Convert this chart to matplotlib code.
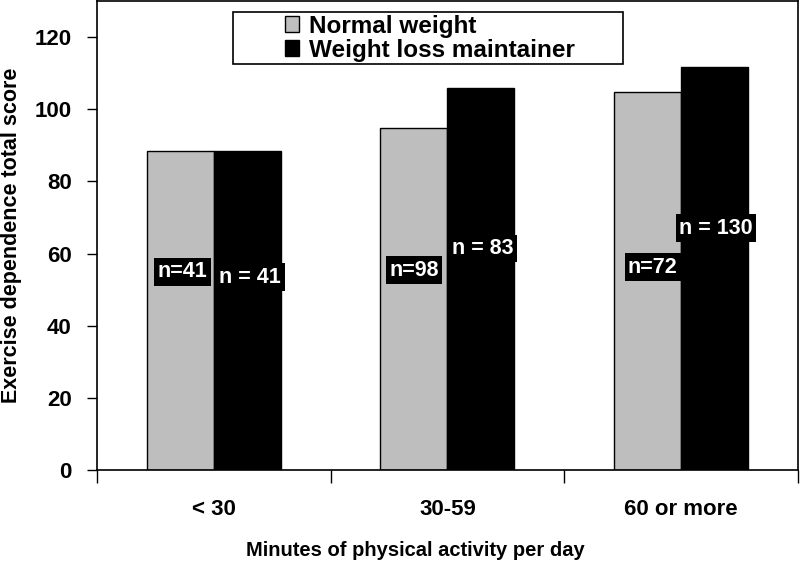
import matplotlib.pyplot as plt
from matplotlib.patches import Rectangle
import numpy as np

categories = ['< 30', '30-59', '60 or more']
normal_weight = [88.5, 94.8, 104.8]
weight_loss = [88.5, 106.0, 111.8]
normal_n = ['n=41', 'n=98', 'n=72']
loss_n = ['n = 41', 'n = 83', 'n = 130']

plt.rcParams['font.family'] = 'Liberation Sans'
plt.rcParams['font.weight'] = 'bold'

fig = plt.figure(figsize=(8, 5.64), dpi=100)
ax = fig.add_axes([0.121, 0.1667, 0.8765, 0.8313])

x = np.arange(len(categories))
w = 0.287
ax.bar(x - w/2, normal_weight, w, color='#bebebe', edgecolor='black', linewidth=1, label='Normal weight')
ax.bar(x + w/2, weight_loss, w, color='black', edgecolor='black', linewidth=1, label='Weight loss maintainer')

# sample size labels (white on black boxes)
box = dict(facecolor='black', edgecolor='none', pad=2.5)
nx_normal = [-0.132, 0.857, 1.879]
ny_normal = [55.0, 55.4, 56.2]
nx_loss = [0.157, 1.152, 2.149]
ny_loss = [53.4, 61.4, 67.0]
for i in range(3):
    ax.text(nx_normal[i], ny_normal[i], normal_n[i], color='white', fontsize=15.5,
            fontweight='bold', ha='center', va='center', bbox=box)
    ax.text(nx_loss[i], ny_loss[i], loss_n[i], color='white', fontsize=15.5,
            fontweight='bold', ha='center', va='center', bbox=box)

ax.set_xlim(-0.5, 2.5)
ax.set_ylim(0, 130)
ax.set_yticks([0, 20, 40, 60, 80, 100, 120])
ax.tick_params(axis='y', direction='out', length=7, width=1, labelsize=16, pad=11)

ax.set_xticks([-0.5, 0.5, 1.5, 2.5])
ax.set_xticklabels([])
ax.set_xticks(x, minor=True)
ax.set_xticklabels(categories, minor=True)
ax.tick_params(axis='x', which='major', direction='out', length=9, width=1)
ax.tick_params(axis='x', which='minor', length=0, labelsize=16, pad=21)

for s in ax.spines.values():
    s.set_linewidth(1.2)

ax.set_xlabel('Minutes of physical activity per day', fontsize=14.5, fontweight='bold',
              va='center', ha='center')
ax.set_ylabel('Exercise dependence total score', fontsize=15.5, fontweight='bold',
              va='center', ha='center')
ax.xaxis.set_label_coords(0.454, -0.1716)
ax.yaxis.set_label_coords(-0.121, 0.5)

# legend frame drawn separately, legend content centred inside it
ax.add_patch(Rectangle((0.194, 0.8657), 0.556, 0.1109, transform=ax.transAxes,
                       facecolor='white', edgecolor='black', linewidth=1.2, zorder=4))
leg = ax.legend(loc='center', bbox_to_anchor=(0.475, 0.921), frameon=False, fontsize=17.5,
                handlelength=0.6, handleheight=0.6, handletextpad=0.4,
                borderpad=0, labelspacing=0.05, borderaxespad=0)
leg.set_zorder(5)

fig.savefig('out.png', dpi=100)
